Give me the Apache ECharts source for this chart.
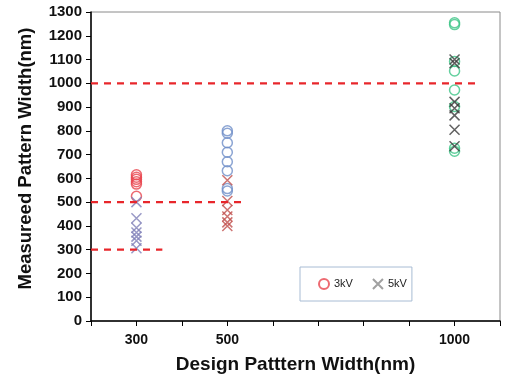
<!DOCTYPE html>
<html>
<head>
<meta charset="utf-8">
<script src="https://cdn.jsdelivr.net/npm/echarts@6/dist/echarts.min.js"></script>
<style>
  html, body { margin: 0; padding: 0; background: #fff; }
  #chart { width: 505px; height: 385px; }
</style>
</head>
<body>
<div id="chart"></div>
<script>
var kv3_300 = [615, 605, 596, 586, 576, 525];
var kv5_300 = [500, 432, 392, 372, 355, 338, 306];
var kv3_500 = [800, 790, 750, 710, 670, 632, 557, 547];
var kv5_500 = [592, 505, 467, 440, 415, 400];
var kv3_1000 = [1255, 1247, 1092, 1052, 972, 902, 727, 714];
var kv5_1000 = [1100, 1085, 922, 895, 865, 805, 735];

// dashed reference lines: [y, x end]
var refLines = [[1000, 1056], [500, 539], [300, 357]];
var labelTicks = [300, 500, 1000];

var CROSS = 'path://M0,0L10,10M10,0L0,10';
var chart = echarts.init(document.getElementById('chart'));

function pts(x, arr) {
    return arr.map(function (v) { return [x, v]; });
}

function scatter(name, x, arr, symbol, color) {
    return {
        name: name,
        type: 'scatter',
        symbol: symbol,
        symbolSize: 10,
        data: pts(x, arr),
        itemStyle: { color: 'transparent', borderColor: color, borderWidth: 1.5 },
        z: 3
    };
}

var series = refLines.map(function (r) {
    return {
        type: 'line',
        data: [[200, r[0]], [r[1], r[0]]],
        symbol: 'none',
        silent: true,
        lineStyle: { color: '#e8262b', width: 2.2, type: [7, 6] },
        z: 4
    };
});

series.push(
    scatter('3kV', 300, kv3_300, 'circle', '#e8454d'),
    scatter('5kV-300', 300, kv5_300, CROSS, '#7f7fb8'),
    scatter('3kV-500', 500, kv3_500, 'circle', '#6f8fc8'),
    scatter('5kV-500', 500, kv5_500, CROSS, '#c0504d'),
    scatter('3kV-1000', 1000, kv3_1000, 'circle', '#3cc486'),
    scatter('5kV', 1000, kv5_1000, CROSS, '#3a3a3a')
);

chart.setOption({
    animation: false,
    textStyle: { fontFamily: 'Liberation Sans' },
    grid: {
        left: 91, right: 5, top: 12, bottom: 64,
        show: true, borderColor: '#8a8a8a', borderWidth: 1
    },
    legend: {
        data: ['3kV', { name: '5kV', itemStyle: { borderColor: '#8a8a8a' } }],
        left: 300, top: 267,
        padding: [11, 5, 11, 18],
        itemWidth: 10, itemHeight: 10, itemGap: 19,
        borderColor: '#a8bcd4', borderWidth: 1,
        textStyle: { fontSize: 11, color: '#222' }
    },
    xAxis: {
        type: 'value',
        min: 200, max: 1100, interval: 100,
        name: 'Design Patttern Width(nm)',
        nameLocation: 'middle', nameGap: 34,
        nameTextStyle: { fontSize: 19, fontWeight: 'bold', color: '#111' },
        splitLine: { show: false },
        axisLine: { lineStyle: { color: '#000', width: 1.5 } },
        axisTick: { length: 5, lineStyle: { color: '#000' } },
        axisLabel: {
            fontSize: 14, fontWeight: 'bold', color: '#111', margin: 12,
            formatter: function (v) { return labelTicks.indexOf(v) >= 0 ? String(v) : ''; }
        }
    },
    yAxis: {
        type: 'value',
        min: 0, max: 1300, interval: 100,
        name: 'Measureed Pattern Width(nm)',
        nameLocation: 'middle', nameGap: 56,
        nameTextStyle: { fontSize: 18.5, fontWeight: 'bold', color: '#111', padding: [0, 0, 0, 16] },
        splitLine: { show: false },
        axisLine: { show: true, lineStyle: { color: '#000', width: 1.5 } },
        axisTick: { show: true, length: 5, lineStyle: { color: '#000' } },
        axisLabel: {
            fontSize: 15, fontWeight: 'bold', color: '#111', margin: 9,
            formatter: function (v) { return String(v); }
        }
    },
    series: series
});
</script>
</body>
</html>
